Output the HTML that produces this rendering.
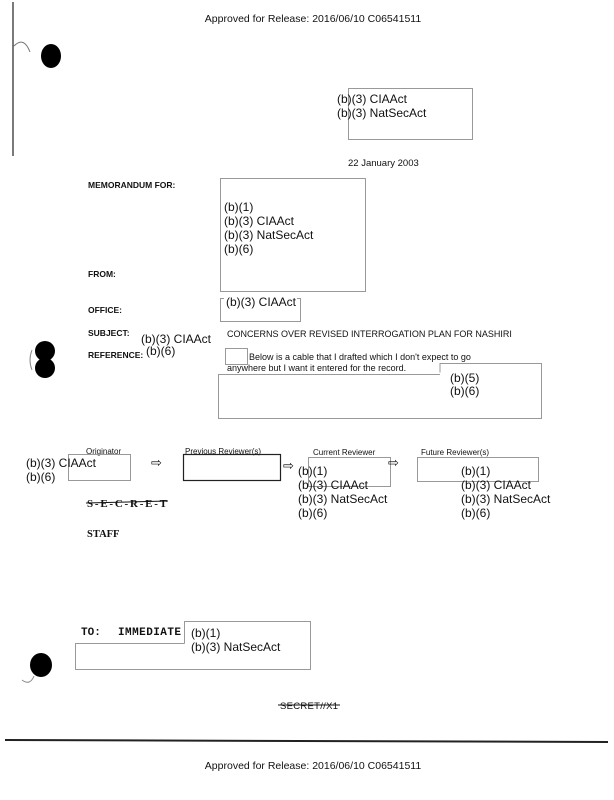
<!DOCTYPE html>
<html><head><meta charset="utf-8"><style>
html,body{margin:0;padding:0;background:#fff;}
svg{display:block}
.a{font-family:"Liberation Sans",sans-serif;fill:#111}
.m{font-family:"Liberation Mono",monospace;font-weight:bold;fill:#111}
.s{font-family:"Liberation Serif",serif;font-weight:bold;fill:#111}
</style></head><body>
<svg width="614" height="800" viewBox="0 0 614 800" xmlns="http://www.w3.org/2000/svg">
<rect width="614" height="800" fill="#fff"/>
<text class="a" x="313" y="22" font-size="10.5" text-anchor="middle">Approved for Release: 2016/06/10 C06541511</text>
<line x1="13" y1="2" x2="13" y2="156" stroke="#222" stroke-width="1.2"/>
<path d="M14 46 Q24 36 30 52" stroke="#777" fill="none"/>
<ellipse cx="51" cy="56" rx="10" ry="12" fill="#000"/>
<ellipse cx="45" cy="351" rx="10" ry="10" fill="#000"/>
<ellipse cx="45" cy="368" rx="10" ry="10" fill="#000"/>
<path d="M32 350 Q28 360 32 370" stroke="#888" fill="none"/>
<ellipse cx="41" cy="665" rx="11" ry="12" fill="#000"/>
<path d="M22 680 Q30 686 34 676" stroke="#888" fill="none"/>
<rect x="348.5" y="88.5" width="124" height="51" fill="none" stroke="#999"/>
<text class="a" x="337" y="103" font-size="12">(b)(3) CIAAct</text>
<text class="a" x="337" y="117" font-size="12">(b)(3) NatSecAct</text>
<text class="a" x="348" y="166" font-size="9.5">22 January 2003</text>
<text class="a" x="88" y="188" font-size="8.5" font-weight="bold">MEMORANDUM FOR:</text>
<rect x="220.5" y="178.5" width="145" height="113" fill="none" stroke="#999"/>
<text class="a" x="224" y="211" font-size="12">(b)(1)</text>
<text class="a" x="224" y="225" font-size="12">(b)(3) CIAAct</text>
<text class="a" x="224" y="239" font-size="12">(b)(3) NatSecAct</text>
<text class="a" x="224" y="253" font-size="12">(b)(6)</text>
<text class="a" x="88" y="277" font-size="8.5" font-weight="bold">FROM:</text>
<text class="a" x="88" y="313" font-size="8.5" font-weight="bold">OFFICE:</text>
<rect x="220.5" y="298.5" width="80" height="23" fill="none" stroke="#999"/>
<rect x="224" y="296" width="73" height="12" fill="#fff"/>
<text class="a" x="226" y="306" font-size="12">(b)(3) CIAAct</text>
<text class="a" x="88" y="336" font-size="8.5" font-weight="bold">SUBJECT:</text>
<text class="a" x="141" y="343" font-size="12">(b)(3) CIAAct</text>
<text class="a" x="227" y="337" font-size="9">CONCERNS OVER REVISED INTERROGATION PLAN FOR NASHIRI</text>
<text class="a" x="88" y="358" font-size="8.5" font-weight="bold">REFERENCE:</text>
<text class="a" x="146" y="355" font-size="12">(b)(6)</text>
<rect x="225.5" y="348.5" width="22" height="16" fill="none" stroke="#999"/>
<text class="a" x="249" y="360" font-size="9">Below is a cable that I drafted which I don't expect to go</text>
<text class="a" x="227" y="371" font-size="9">anywhere but I want it entered for the record.</text>
<polyline points="440,372.5 440,363.5 541.5,363.5 541.5,418.5 218.5,418.5 218.5,374.5 440,374.5" fill="none" stroke="#999"/>
<text class="a" x="450" y="382" font-size="12">(b)(5)</text>
<text class="a" x="450" y="395" font-size="12">(b)(6)</text>
<text class="a" x="86" y="454" font-size="8">Originator</text>
<rect x="68.5" y="454.5" width="62" height="26" fill="none" stroke="#999"/>
<text class="a" x="26" y="467" font-size="12">(b)(3) CIAAct</text>
<text class="a" x="26" y="481" font-size="12">(b)(6)</text>
<text class="a" x="151" y="467" font-size="13">⇨</text>
<text class="a" x="185" y="454" font-size="8">Previous Reviewer(s)</text>
<rect x="183.5" y="454.5" width="97" height="26" fill="none" stroke="#222" stroke-width="1.2"/>
<text class="a" x="283" y="470" font-size="13">⇨</text>
<text class="a" x="313" y="455" font-size="8">Current Reviewer</text>
<rect x="308.5" y="457.5" width="82" height="29" fill="none" stroke="#999"/>
<rect x="297" y="463" width="10" height="14" fill="#fff"/>
<text class="a" x="298" y="475" font-size="12">(b)(1)</text>
<text class="a" x="298" y="489" font-size="12">(b)(3) CIAAct</text>
<text class="a" x="298" y="503" font-size="12">(b)(3) NatSecAct</text>
<text class="a" x="298" y="517" font-size="12">(b)(6)</text>
<text class="a" x="388" y="467" font-size="13">⇨</text>
<text class="a" x="421" y="455" font-size="8">Future Reviewer(s)</text>
<rect x="417.5" y="457.5" width="121" height="24" fill="none" stroke="#999"/>
<text class="a" x="461" y="475" font-size="12">(b)(1)</text>
<text class="a" x="461" y="489" font-size="12">(b)(3) CIAAct</text>
<text class="a" x="461" y="503" font-size="12">(b)(3) NatSecAct</text>
<text class="a" x="461" y="517" font-size="12">(b)(6)</text>
<text class="s" x="87" y="507" font-size="11" textLength="80">S-E-C-R-E-T</text>
<line x1="86" y1="503" x2="168" y2="501" stroke="#111" stroke-width="1"/>
<text class="s" x="87" y="537" font-size="10.5">STAFF</text>
<text class="m" x="81" y="635" font-size="11">TO:</text>
<text class="m" x="118" y="635" font-size="11" textLength="63">IMMEDIATE</text>
<polyline points="184.5,643.5 184.5,621.5 310.5,621.5 310.5,669.5 75.5,669.5 75.5,643.5 184.5,643.5" fill="none" stroke="#999"/>
<text class="a" x="191" y="637" font-size="12">(b)(1)</text>
<text class="a" x="191" y="651" font-size="12">(b)(3) NatSecAct</text>
<text class="a" x="280" y="709" font-size="9.5" textLength="58">SECRET//X1</text>
<line x1="278" y1="705" x2="340" y2="705" stroke="#111"/>
<line x1="5" y1="740" x2="608" y2="742" stroke="#222" stroke-width="2"/>
<text class="a" x="313" y="769" font-size="10.5" text-anchor="middle">Approved for Release: 2016/06/10 C06541511</text>
</svg>
</body></html>
